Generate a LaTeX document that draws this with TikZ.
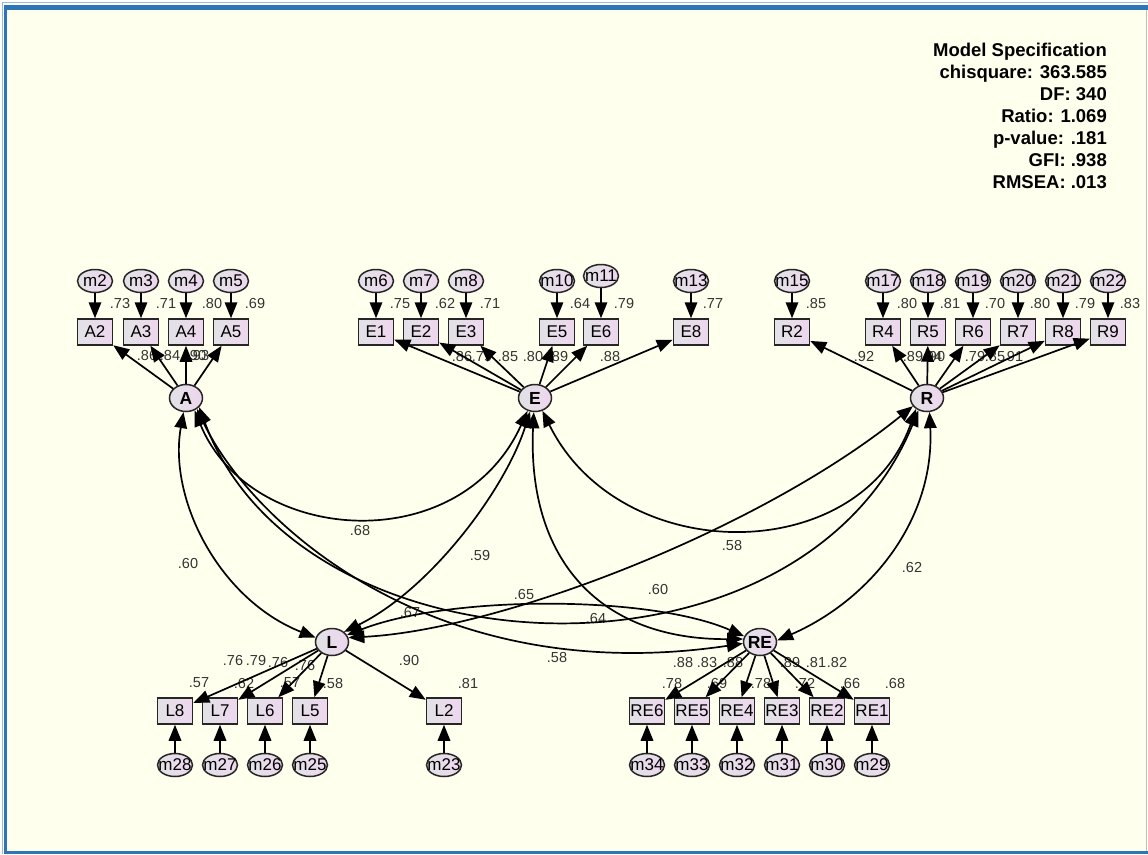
\documentclass[tikz,border=0pt]{standalone}
\usepackage{fontspec}
\setmainfont{Liberation Sans}
\usetikzlibrary{arrows.meta,shapes.geometric}

\definecolor{paper}{RGB}{255,255,238}
\definecolor{frameblue}{RGB}{46,117,182}
\definecolor{framelight}{RGB}{150,185,220}
\definecolor{fillgray}{RGB}{226,226,230}
\definecolor{fillpink}{RGB}{238,214,238}

% ellipse labels are set in a zero-width box so the outline keeps its fixed size
\newcommand{\zwlabel}[1]{\makebox[0pt]{#1}}

\tikzset{
  shadefill/.style={left color=fillgray, right color=fillpink, draw=black!85, line width=1.5pt, inner sep=0pt},
  lat/.style={shadefill, ellipse, minimum width=33pt, minimum height=27pt,
              font=\fontsize{17.5}{17.5}\selectfont\bfseries},
  err/.style={shadefill, ellipse, minimum width=35pt, minimum height=23pt,
              font=\fontsize{17}{17}\selectfont},
  obs/.style={shadefill, rectangle, minimum width=35pt, minimum height=26pt,
              font=\fontsize{17}{17}\selectfont},
  num/.style={font=\fontsize{14.5}{14.5}\selectfont, text=black!80, inner sep=0pt},
  stat/.style={font=\fontsize{18.5}{18.5}\selectfont\bfseries, inner sep=0pt, anchor=base east},
  tipd/.tip={Triangle[length=16pt,width=12.5pt]},
  arr/.style={-tipd, line width=1.7pt},
  cov/.style={tipd-tipd, line width=1.7pt},
}

\begin{document}
\begin{tikzpicture}[x=1pt,y=-1pt]
\useasboundingbox (0,0) rectangle (1148,854);

% window frame and canvas
\fill[white] (0,0) rectangle (1148,854);
\fill[paper] (7,9.5) rectangle (1148,850.5);
\draw[framelight, line width=0.8pt] (2.5,854) -- (2.5,2) -- (1148,2);
\fill[frameblue] (3.5,5) rectangle (1148,9.5);
\fill[frameblue] (3.5,5) rectangle (7,854);
\fill[frameblue] (3.5,850.5) rectangle (1148,853.5);
\draw[black!25, line width=0.8pt] (1146.5,9.5) -- (1146.5,850.5);

% fit statistics
\foreach \t/\y [count=\i] in {Model Specification/56.5, chisquare: 363.585/78.5, DF: 340/100.5,
    Ratio: 1.069/122.5, p-value: .181/144.5, GFI: .938/166.5, RMSEA: .013/188.5}
  \node[stat] (stat\i) at (1107,\y) {\t};

% latent variables
\node[lat] (A)  at (186,398) {\zwlabel{A}};
\node[lat] (E)  at (535,398) {\zwlabel{E}};
\node[lat] (R)  at (927,398) {\zwlabel{R}};
\node[lat] (L)  at (332,642) {\zwlabel{L}};
\node[lat] (RE) at (760,642) {\zwlabel{RE}};

% indicators with their error terms (upper row)
\foreach \b/\m/\x in {A2/m2/95, A3/m3/141, A4/m4/186, A5/m5/231,
    E1/m6/376, E2/m7/421, E3/m8/466, E5/m10/557, E8/m13/691,
    R2/m15/792, R4/m17/883, R5/m18/928, R6/m19/973, R7/m20/1018, R8/m21/1063, R9/m22/1108} {
  \node[obs] (\b) at (\x,332) {\b};
  \node[err] (\m) at (\x,281) {\zwlabel{\m}};
}
\node[obs] (E6) at (601,332) {E6};
\node[err] (m11) at (601,276) {\zwlabel{m11}};

% indicators with their error terms (lower row)
\foreach \b/\m/\x in {L8/m28/175, L7/m27/220, L6/m26/265, L5/m25/310, L2/m23/444,
    RE6/m34/647, RE5/m33/692, RE4/m32/737, RE3/m31/782, RE2/m30/827, RE1/m29/872} {
  \node[obs] (\b) at (\x,711) {\b};
  \node[err] (\m) at (\x,765) {\zwlabel{\m}};
}

% squared multiple correlations
\foreach \t/\x/\y [count=\i] in {.73/120/304, .71/166/304, .80/212/304, .69/255/304,
    .75/400/304, .62/445/304, .71/490/304, .64/580/304, .79/624/304, .77/713/304,
    .85/816/304, .80/907/304, .81/950/304, .70/995/304, .80/1040/304, .79/1085/304, .83/1130/304,
    .57/199/683, .62/244/683, .57/290/683, .58/333/683, .81/468/683,
    .78/672/683, .69/717/683, .78/761/683, .72/805/683, .66/850/683, .68/895/683}
  \node[num] (smc\i) at (\x,\y) {\t};

% standardized loadings
\foreach \t/\x/\y [count=\i] in {.86/147/356, .84/170/356, .90/196/356, .93/199/356,
    .86/462/357, .79/482/357, .85/508/357, .80/533/357, .89/558/357, .88/610/357,
    .92/864/357, .89/913/357, .94/932/357, .90/935/357, .79/975/357, .85/995/357, .91/1013/357,
    .76/233/660, .79/256/660, .76/278/662, .76/305/665, .90/409/660,
    .88/683/662, .83/707/662, .88/733/662, .89/790/662, .81/816/662, .82/837/662}
  \node[num] (ld\i) at (\x,\y) {\t};

% correlations between latent variables
\foreach \t/\x/\y [count=\i] in {.60/188/563, .68/360/531, .59/480/555, .65/524/594, .67/410/612,
    .58/557/657, .64/596/618, .60/658/589, .58/732/545, .62/912/567}
  \node[num] (cr\i) at (\x,\y) {\t};

% loadings: latent -> indicator
\foreach \l/\bs in {A/{A2,A3,A4,A5}, E/{E1,E2,E3,E5,E6,E8}, R/{R2,R4,R5,R6,R7,R8,R9},
    L/{L8,L7,L6,L5,L2}, RE/{RE6,RE5,RE4,RE3,RE2,RE1}}
  \foreach \b in \bs
    \draw[arr] (\l) -- (\b);

% errors: error term -> indicator
\foreach \m/\b in {m2/A2, m3/A3, m4/A4, m5/A5, m6/E1, m7/E2, m8/E3, m10/E5, m11/E6, m13/E8,
    m15/R2, m17/R4, m18/R5, m19/R6, m20/R7, m21/R8, m22/R9,
    m28/L8, m27/L7, m26/L6, m25/L5, m23/L2,
    m34/RE6, m33/RE5, m32/RE4, m31/RE3, m30/RE2, m29/RE1}
  \draw[arr] (\m) -- (\b);

% covariances
\draw[cov] (A.-100) .. controls (168,500) and (220,600) .. (L.165);
\draw[cov] (A.-55) .. controls (250,545) and (460,560) .. (E.-120);
\draw[cov] (A.-45) .. controls (250,520) and (430,690) .. (RE.185);
\draw[cov] (A.-35) .. controls (300,680) and (800,700) .. (R.-125);
\draw[cov] (E.-110) .. controls (505,490) and (430,590) .. (L.40);
\draw[cov] (E.-60) .. controls (620,568) and (860,568) .. (R.-135);
\draw[cov] (E.-95) .. controls (527,560) and (600,640) .. (RE.170);
\draw[cov] (R.-150) .. controls (760,530) and (500,630) .. (L.15);
\draw[cov] (R.-80) .. controls (935,520) and (870,600) .. (RE.5);
\draw[cov] (L.25) .. controls (450,595) and (650,595) .. (RE.160);
\end{tikzpicture}
\end{document}
